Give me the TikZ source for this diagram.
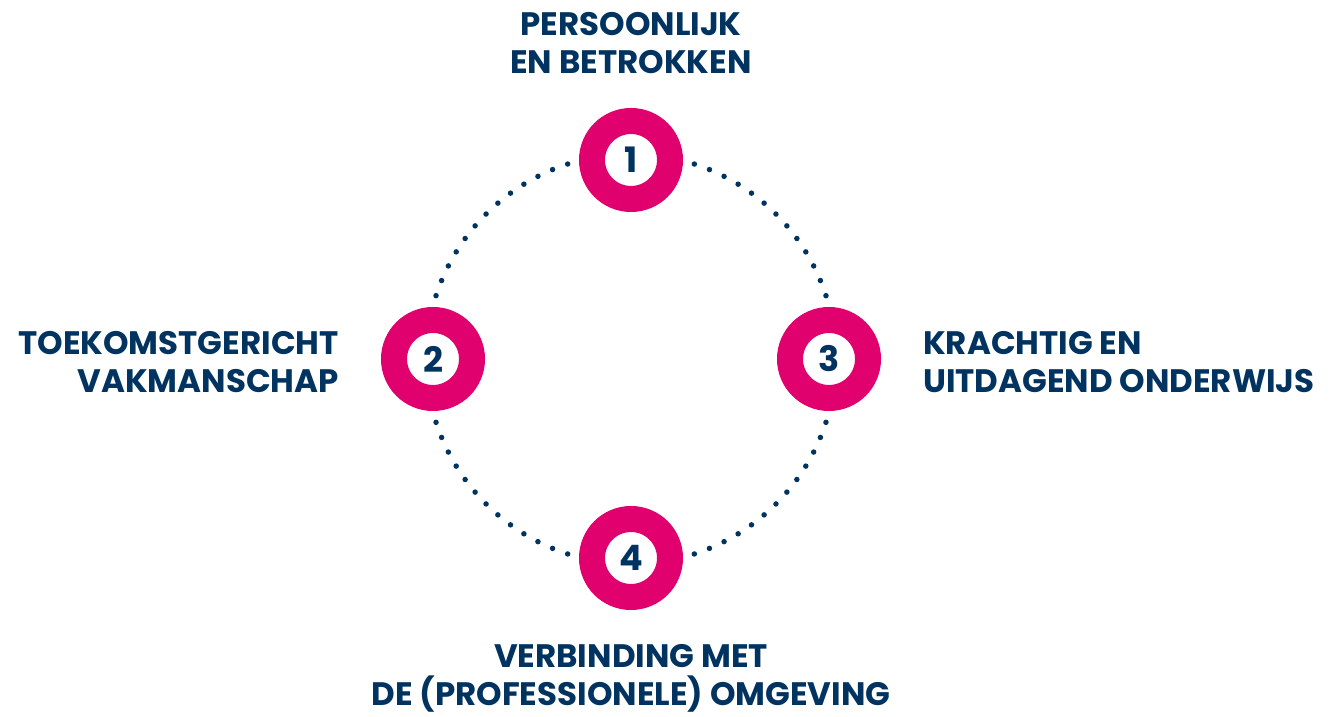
\documentclass[tikz,border=0pt]{standalone}
\usepackage{fontspec}
\setmainfont{Poppins}
\usetikzlibrary{positioning}
\definecolor{ringpink}{RGB}{224,0,110}
\definecolor{navy}{RGB}{0,51,96}

\begin{document}
\begin{tikzpicture}[
    x=1pt, y=1pt,
    every node/.style={text=navy},
    num/.style={
        circle, draw=ringpink, line width=26pt, fill=white,
        minimum size=78pt, inner sep=0pt,
        font=\fontsize{35}{35}\selectfont\bfseries
    },
    lbl/.style={font=\fontsize{32.5}{38}\selectfont\bfseries, inner sep=0pt},
    dots/.style={navy, line width=5.5pt, line cap=round, dash pattern=on 0pt off 16.1pt}
]
\useasboundingbox (0,0) rectangle (1344,717);

% --- Ring of four numbered circles ---
\coordinate (mid) at (631,358);
\node[num] (p1) at (631,557) {1};
\node[num] (p2) at (433,358) {2};
\node[num] (p3) at (829,358) {3};
\node[num] (p4) at (631,159) {4};

% --- Dotted arcs between the circles ---
\foreach \a in {18,108,198,288}
    \draw[dots] ([shift={(\a:205)}]mid) arc[start angle=\a, delta angle=54, radius=205];

% --- Labels ---
\node[lbl, align=center, above=34pt of p1] (t1) {PERSOONLIJK\\EN BETROKKEN};
\node[lbl, align=right, left=42pt of p2, yshift=-3pt] (t2) {TOEKOMSTGERICHT\\VAKMANSCHAP};
\node[lbl, align=left, right=42pt of p3, yshift=-3pt] (t3) {KRACHTIG EN\\UITDAGEND ONDERWIJS};
\node[lbl, align=center, below=34pt of p4] (t4) {VERBINDING MET\\DE (PROFESSIONELE) OMGEVING};

\end{tikzpicture}
\end{document}
